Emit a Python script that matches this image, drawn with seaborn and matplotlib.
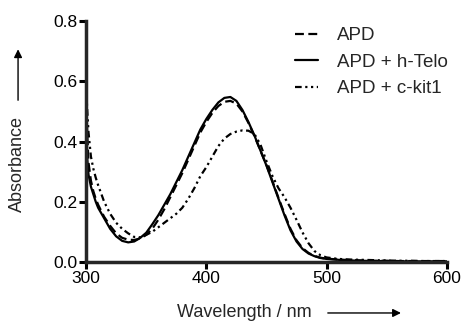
import matplotlib
matplotlib.use('Agg')
import matplotlib.pyplot as plt
import seaborn as sns
import pandas as pd

# wavelength grid (nm)
wavelength = [300, 301, 302, 304, 306, 308, 310, 315, 320, 325, 330, 335, 340, 345, 350,
              355, 360, 365, 370, 375, 380, 385, 390, 395, 400, 405, 410, 415, 420, 425,
              430, 435, 440, 445, 450, 455, 460, 465, 470, 475, 480, 485, 490, 495, 500,
              510, 520, 530, 540, 550, 560, 570, 580, 590, 600]

# absorbance values
apd = [0.55, 0.42, 0.33, 0.27, 0.235, 0.21, 0.19, 0.15, 0.12, 0.095, 0.08, 0.074, 0.073, 0.078, 0.09,
       0.11, 0.14, 0.175, 0.215, 0.255, 0.295, 0.34, 0.385, 0.43, 0.465, 0.495, 0.518, 0.532, 0.535, 0.526,
       0.5, 0.462, 0.418, 0.37, 0.322, 0.268, 0.213, 0.16, 0.11, 0.072, 0.046, 0.03, 0.02, 0.014, 0.011,
       0.008, 0.006, 0.005, 0.004, 0.004, 0.003, 0.003, 0.003, 0.003, 0.003]
apd_htelo = [0.50, 0.34, 0.29, 0.25, 0.225, 0.20, 0.18, 0.145, 0.11, 0.085, 0.07, 0.065, 0.068, 0.08, 0.097,
             0.125, 0.155, 0.19, 0.225, 0.265, 0.305, 0.35, 0.395, 0.44, 0.475, 0.505, 0.53, 0.545, 0.548, 0.535,
             0.505, 0.465, 0.42, 0.37, 0.32, 0.265, 0.21, 0.155, 0.105, 0.068, 0.043, 0.028, 0.019, 0.013, 0.01,
             0.007, 0.005, 0.004, 0.003, 0.003, 0.002, 0.002, 0.002, 0.002, 0.002]
apd_ckit1 = [0.58, 0.50, 0.43, 0.35, 0.31, 0.28, 0.255, 0.2, 0.16, 0.13, 0.11, 0.095, 0.083, 0.082, 0.09,
             0.1, 0.115, 0.13, 0.145, 0.16, 0.18, 0.21, 0.245, 0.285, 0.315, 0.35, 0.385, 0.41, 0.425, 0.433,
             0.437, 0.436, 0.425, 0.39, 0.335, 0.285, 0.245, 0.215, 0.18, 0.14, 0.098, 0.062, 0.036, 0.022, 0.015,
             0.01, 0.008, 0.007, 0.006, 0.005, 0.004, 0.004, 0.003, 0.003, 0.003]

series = [('APD', apd, (0, (4, 2))),
          ('APD + h-Telo', apd_htelo, '-'),
          ('APD + c-kit1', apd_ckit1, (0, (3, 1.6, 1, 1.6, 1, 1.6)))]

sns.set_style("ticks")
plt.rcParams['font.family'] = ['Liberation Sans', 'DejaVu Sans']

fig = plt.figure(figsize=(4.63, 3.25), dpi=100)
ax = fig.add_axes([0.186, 0.194, 0.779, 0.741])

for name, vals, ls in series:
    df = pd.DataFrame({'wl': wavelength, 'abs': vals})
    sns.lineplot(data=df, x='wl', y='abs', ax=ax, color='black', linewidth=1.6,
                 linestyle=ls, label=name)

ax.set_xlim(300, 600)
ax.set_ylim(0, 0.8)
ax.set_xticks([300, 400, 500, 600])
ax.set_yticks([0.0, 0.2, 0.4, 0.6, 0.8])
ax.set_yticklabels(['0.0', '0.2', '0.4', '0.6', '0.8'])
ax.set_xlabel('')
ax.set_ylabel('')
for s in ['top', 'right']:
    ax.spines[s].set_visible(False)
for s in ['left', 'bottom']:
    ax.spines[s].set_linewidth(2.5)
ax.tick_params(width=2.2, length=5, labelsize=12.5, pad=1.5, colors='black')

leg = ax.legend(loc='upper left', frameon=False, fontsize=13.5, handlelength=1.25,
                handletextpad=1.0, labelspacing=0.5, borderpad=0, borderaxespad=0,
                bbox_to_anchor=(0.637, 0.916), bbox_transform=fig.transFigure)

# axis labels with arrows
fig.text(0.038, 0.495, 'Absorbance', rotation=90, ha='center', va='center', fontsize=13)
ax.annotate('', xy=(0.039, 0.857), xytext=(0.039, 0.683), xycoords='figure fraction',
            arrowprops=dict(arrowstyle='-|>', color='black', lw=1, mutation_scale=12))
fig.text(0.527, 0.037, 'Wavelength / nm', ha='center', va='center', fontsize=13)
ax.annotate('', xy=(0.872, 0.037), xytext=(0.702, 0.037), xycoords='figure fraction',
            arrowprops=dict(arrowstyle='-|>', color='black', lw=1, mutation_scale=12))

fig.savefig('out.png', dpi=100)
